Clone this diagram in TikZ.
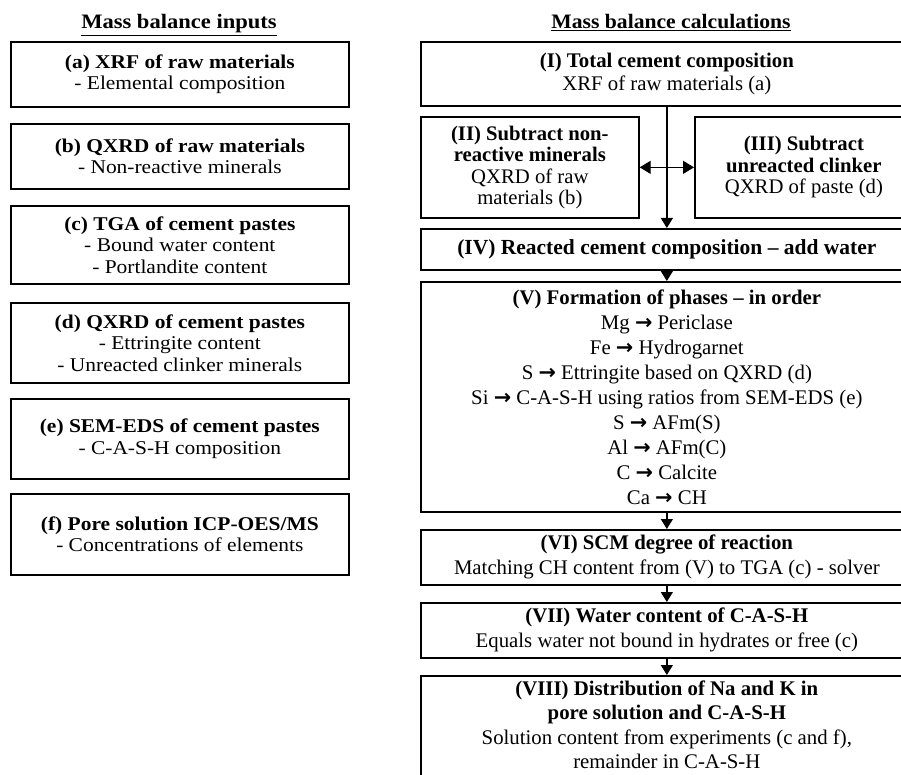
\documentclass[tikz,border=0pt]{standalone}
\usepackage{fontspec}
\setmainfont{Liberation Serif}
\newfontfamily\leftfont[FakeStretch=1.1]{Liberation Serif}
\newfontfamily\rtitlefont[FakeStretch=1.055]{Liberation Serif}
\newfontfamily\arrowfont{DejaVu Sans}
\newcommand\phasearrow{{\arrowfont\bfseries →}}
\usetikzlibrary{arrows.meta}
\begin{document}
\begin{tikzpicture}[x=1pt,y=-1pt,
 inbox/.style={draw, line width=1.7pt, anchor=north west, align=center, inner sep=0pt,
   minimum width=338pt, font=\leftfont\fontsize{19.5}{21.5}\selectfont},
 calcbox/.style={draw, line width=1.7pt, anchor=north west, align=center, inner sep=0pt,
   minimum width=492pt, font=\fontsize{20.8}{25}\selectfont},
 sidebox/.style={draw, line width=1.7pt, anchor=north west, align=center, inner sep=0pt,
   minimum width=218pt, minimum height=101pt, font=\fontsize{20.7}{21.5}\selectfont},
 lheading/.style={anchor=base, font=\leftfont\fontsize{20.5}{22}\selectfont\bfseries},
 rheading/.style={anchor=base, font=\rtitlefont\fontsize{20.5}{22}\selectfont\bfseries},
 conn/.style={line width=1.3pt, -{Triangle[length=10pt,width=12pt]}},
 dconn/.style={line width=1.3pt, {Triangle[length=11pt,width=13pt]}-{Triangle[length=11pt,width=13pt]}},
]
\useasboundingbox (0,0) rectangle (901,775);
\clip (0,0) rectangle (901,775);
\fill[white] (0,0) rectangle (901,775);

% headings
\node[lheading] (t1) at (179,29) {\underline{Mass balance inputs}};
\node[rheading] (t2) at (671,29) {\underline{Mass balance calculations}};

% inputs
\node[inbox, minimum height=65pt] (a) at (10,41)
  {\textbf{(a) XRF of raw materials}\\- Elemental composition};
\node[inbox, minimum height=65pt] (b) at (10,123)
  {\textbf{(b) QXRD of raw materials}\\- Non-reactive minerals};
\node[inbox, minimum height=78pt] (c) at (10,205)
  {\textbf{(c) TGA of cement pastes}\\- Bound water content\\- Portlandite content};
\node[inbox, minimum height=80pt] (d) at (10,302)
  {\textbf{(d) QXRD of cement pastes}\\- Ettringite content\\- Unreacted clinker minerals};
\node[inbox, minimum height=80pt] (e) at (10,398)
  {\textbf{(e) SEM-EDS of cement pastes}\\- C-A-S-H composition};
\node[inbox, minimum height=81pt] (f) at (10,493)
  {\textbf{(f) Pore solution ICP-OES/MS}\\- Concentrations of elements};

% calculations
\node[calcbox, minimum height=64pt, font=\fontsize{20.8}{23}\selectfont] (I) at (420,41)
  {\textbf{(I) Total cement composition}\\XRF of raw materials (a)};
\node[sidebox] (II) at (420,116)
  {\textbf{(II) Subtract non-}\\\textbf{reactive minerals}\\QXRD of raw\\materials (b)};
\node[sidebox] (III) at (694,116)
  {\textbf{(III) Subtract}\\\textbf{unreacted clinker}\\QXRD of paste (d)};
\node[calcbox, minimum height=41pt, font=\fontsize{21.5}{25}\selectfont] (IV) at (420,228)
  {\textbf{(IV) Reacted cement composition – add water}};
\node[calcbox, minimum height=230pt] (V) at (420,281)
  {\textbf{(V) Formation of phases – in order}\\
   Mg \phasearrow{} Periclase\\
   Fe \phasearrow{} Hydrogarnet\\
   S \phasearrow{} Ettringite based on QXRD (d)\\
   Si \phasearrow{} C-A-S-H using ratios from SEM-EDS (e)\\
   S \phasearrow{} AFm(S)\\
   Al \phasearrow{} AFm(C)\\
   C \phasearrow{} Calcite\\
   Ca \phasearrow{} CH};
\node[calcbox, minimum height=118pt, font=\fontsize{20.8}{24.5}\selectfont] (VIII) at (420,675)
  {\textbf{(VIII) Distribution of Na and K in}\\\textbf{pore solution and C-A-S-H}\\
   Solution content from experiments (c and f),\\remainder in C-A-S-H\\[-4pt]\mbox{}};
\node[calcbox, minimum height=55pt] (VI) at (420,529)
  {\textbf{(VI) SCM degree of reaction}\\Matching CH content from (V) to TGA (c) - solver};
\node[calcbox, minimum height=55pt] (VII) at (420,602)
  {\textbf{(VII) Water content of C-A-S-H}\\Equals water not bound in hydrates or free (c)};

% connectors
\draw[conn] (I.south) -- (IV.north);
\draw[dconn] (II.east) -- (III.west);
\draw[conn] (IV.south) -- (V.north);
\draw[conn] (V.south) -- (VI.north);
\draw[conn] (VI.south) -- (VII.north);
\draw[conn] (VII.south) -- (VIII.north);
\end{tikzpicture}
\end{document}
